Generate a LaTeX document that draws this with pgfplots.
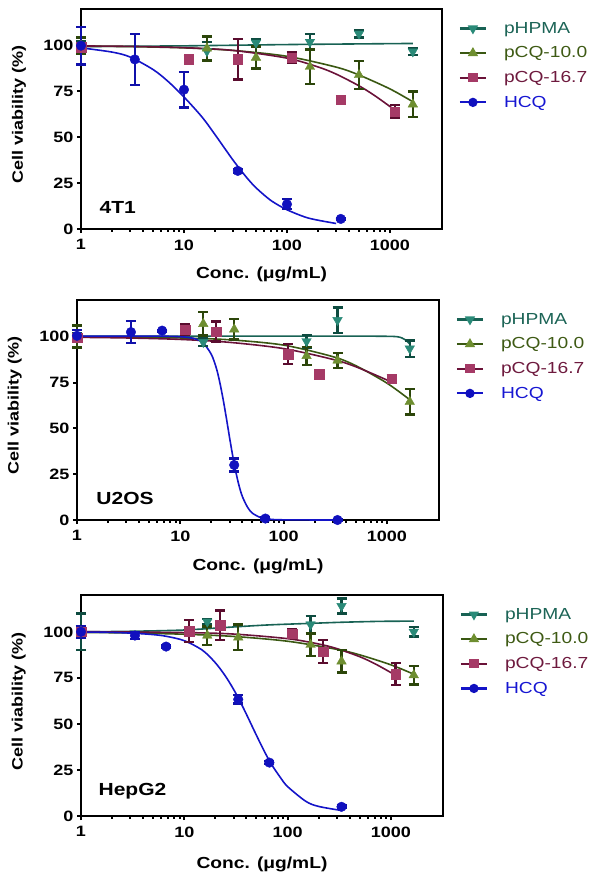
\documentclass[border=0pt]{standalone}
\usepackage{fontspec}
\setmainfont{Liberation Sans}[FakeStretch=1.2]
\usepackage{pgfplots}
\pgfplotsset{compat=1.18}

\definecolor{tealline}{RGB}{24,98,84}
\definecolor{tealmark}{RGB}{42,138,120}
\definecolor{tealerr}{RGB}{14,76,64}
\definecolor{tealtxt}{RGB}{28,100,86}
\definecolor{olivline}{RGB}{58,88,18}
\definecolor{olivmark}{RGB}{110,142,48}
\definecolor{oliverr}{RGB}{44,70,10}
\definecolor{olivtxt}{RGB}{62,90,20}
\definecolor{maroline}{RGB}{106,18,56}
\definecolor{maromark}{RGB}{165,58,102}
\definecolor{maroerr}{RGB}{90,12,46}
\definecolor{marotxt}{RGB}{110,26,62}
\definecolor{blueline}{RGB}{20,20,200}
\definecolor{bluemark}{RGB}{16,16,190}
\definecolor{blueerr}{RGB}{16,16,170}
\definecolor{bluetxt}{RGB}{22,22,210}

\tikzset{celllabel/.style={anchor=west, font=\bfseries\fontsize{17.5}{17.5}\selectfont}}

\pgfplotsset{
  legend image code/.code={\draw[mark repeat=2,mark phase=2,#1] plot coordinates {(0pt,0pt) (13pt,0pt) (26pt,0pt)};},
  myfit/.style={line width=1.6pt, no marks, smooth, forget plot},
  myhpma/.style={only marks, forget plot, mark=triangle*, mark size=5.5pt,
      mark options={rotate=180, fill=tealmark, draw=tealmark},
      error bars/y dir=both, error bars/y explicit,
      error bars/error bar style={line width=2.2pt, tealerr, solid},
      error bars/error mark options={rotate=90, line width=2.4pt, tealerr, mark size=5pt, solid}},
  mycqa/.style={only marks, forget plot, mark=triangle*, mark size=5.5pt,
      mark options={fill=olivmark, draw=olivmark},
      error bars/y dir=both, error bars/y explicit,
      error bars/error bar style={line width=2.2pt, oliverr, solid},
      error bars/error mark options={rotate=90, line width=2.4pt, oliverr, mark size=5pt, solid}},
  mycqb/.style={only marks, forget plot, mark=square*, mark size=4.8pt,
      mark options={fill=maromark, draw=maromark},
      error bars/y dir=both, error bars/y explicit,
      error bars/error bar style={line width=2.2pt, maroerr, solid},
      error bars/error mark options={rotate=90, line width=2.4pt, maroerr, mark size=5pt, solid}},
  myhcq/.style={only marks, forget plot, mark=*, mark size=4.8pt,
      mark options={fill=bluemark, draw=bluemark},
      error bars/y dir=both, error bars/y explicit,
      error bars/error bar style={line width=2.2pt, blueerr, solid},
      error bars/error mark options={rotate=90, line width=2.4pt, blueerr, mark size=5pt, solid}},
}

\newcommand{\addlegends}{%
  \addlegendimage{color=tealline, line width=2.2pt, mark=triangle*, mark size=3.8pt, mark options={rotate=180, fill=tealmark, draw=tealmark}}
  \addlegendentry{\textcolor{tealtxt}{pHPMA}}
  \addlegendimage{color=olivline, line width=2.2pt, mark=triangle*, mark size=3.8pt, mark options={fill=olivmark, draw=olivmark}}
  \addlegendentry{\textcolor{olivtxt}{pCQ-10.0}}
  \addlegendimage{color=maroline, line width=2.2pt, mark=square*, mark size=3.5pt, mark options={fill=maromark, draw=maromark}}
  \addlegendentry{\textcolor{marotxt}{pCQ-16.7}}
  \addlegendimage{color=blueline, line width=2.2pt, mark=*, mark size=3.5pt, mark options={fill=bluemark, draw=bluemark}}
  \addlegendentry{\textcolor{bluetxt}{HCQ}}
}

\begin{document}
\begin{tikzpicture}
\useasboundingbox (0,0) rectangle (595pt,-882pt);

% ---------------- 4T1 ----------------
\begin{axis}[at={(81pt,-229pt)}, anchor=south west,
    scale only axis, width=361pt, height=220pt,
    xmode=log, xmin=1, xmax=3200, ymin=0, ymax=120,
    xtick={1,10,100,1000}, xticklabels={1,10,100,1000},
    ytick={0,25,50,75,100}, minor tick num=0,
    axis line style={line width=2pt},
    tick pos=left, tick align=outside, major tick length=4pt,
    tick style={line width=2pt, black},
    /pgf/number format/assume math mode=true,
    tick label style={font=\bfseries\fontsize{15}{15}\selectfont},
    xticklabel style={yshift=-3pt},
    xlabel={Conc. (μg/mL)},
    xlabel style={font=\bfseries\fontsize{16}{16}\selectfont, at={(axis description cs:0.5,0)}, anchor=center, yshift=-45pt},
    ylabel={Cell viability (\%)},
    ylabel style={font=\bfseries\fontsize{15}{15}\selectfont, at={(axis description cs:-0.172,0.52)}, anchor=center},
    clip=false,
    legend style={at={(axis description cs:1.046,0.95)}, anchor=north west, draw=none, fill=none,
      inner sep=0pt, row sep=8pt, font=\fontsize{16}{16}\selectfont, cells={anchor=west},
      /tikz/every odd column/.append style={column sep=15pt}}]
\addlegends
\addplot[myfit, tealline] coordinates {(1,99.5) (10,99.9) (100,100.6) (1000,101.1) (1667,101.2)};
\addplot[myfit, olivline] coordinates {(1,99.75) (3,99.47) (10,98.8) (30,97.4) (100,94.2) (300,88.3) (500,84.0) (1000,76.4) (1667,69.4)};
\addplot[myfit, maroline] coordinates {(1,99.84) (3,99.6) (10,98.9) (30,97.4) (100,93.2) (200,88.4) (300,84.5) (500,78.1) (700,73) (1000,66.8) (1111,64.8)};
\addplot[myfit, blueline] coordinates {(1,98.8) (2,96.5) (3,93.8) (5,87) (7,80.5) (10,72) (15,61) (20,51.5) (30,37.5) (40,28.5) (50,22.5) (70,15.5) (100,10.5) (150,6.5) (200,4.8) (300,3)};
\addplot[myhpma] table[x=x,y=y,y error=e] {
x y e
1 99.5 3
16.7 97 5
50 101.5 2
167 102 4.5
500 106.5 2
1667 96.8 2
};
\addplot[mycqa] table[x=x,y=y,y error=e] {
x y e
1 100 4.5
16.7 98.5 6.5
50 93.5 6
167 88.5 9.5
500 84 7.5
1667 68 7
};
\addplot[mycqb] table[x=x,y=y,y error=e] {
x y e
1 99 2
11.1 92.5 2
33.3 92.5 11
111 93.5 3
333 70.5 2
1111 64 3.5
};
\addplot[myhcq] table[x=x,y=y,y error=e] {
x y e
1 100 10.3
3.33 92.5 14
10 76 9.7
33.3 31.7 1
100 13.5 2.7
333 5.5 0.5
};
\node[celllabel] at (axis description cs:0.042,0.1) {4T1};
\end{axis}

% ---------------- U2OS ----------------
\begin{axis}[at={(77pt,-520pt)}, anchor=south west,
    scale only axis, width=362pt, height=220pt,
    xmode=log, xmin=1, xmax=3200, ymin=0, ymax=120,
    xtick={1,10,100,1000}, xticklabels={1,10,100,1000},
    ytick={0,25,50,75,100}, minor tick num=0,
    axis line style={line width=2pt},
    tick pos=left, tick align=outside, major tick length=4pt,
    tick style={line width=2pt, black},
    /pgf/number format/assume math mode=true,
    tick label style={font=\bfseries\fontsize{15}{15}\selectfont},
    xticklabel style={yshift=-3pt},
    xlabel={Conc. (μg/mL)},
    xlabel style={font=\bfseries\fontsize{16}{16}\selectfont, at={(axis description cs:0.5,0)}, anchor=center, yshift=-46pt},
    ylabel={Cell viability (\%)},
    ylabel style={font=\bfseries\fontsize{15}{15}\selectfont, at={(axis description cs:-0.172,0.52)}, anchor=center},
    clip=false,
    legend style={at={(axis description cs:1.046,0.95)}, anchor=north west, draw=none, fill=none,
      inner sep=0pt, row sep=8pt, font=\fontsize{16}{16}\selectfont, cells={anchor=west},
      /tikz/every odd column/.append style={column sep=15pt}}]
\addlegends
\addplot[myfit, tealline] coordinates {(1,100.3) (100,100.3) (500,100.3) (1000,100.2) (1250,100) (1400,99.3) (1550,97.8) (1667,96)};
\addplot[myfit, olivline] coordinates {(1,99.9) (3,99.76) (10,99.3) (30,98.3) (100,95.4) (300,89.1) (500,84.2) (1000,74.7) (1667,65.6)};
\addplot[myfit, maroline] coordinates {(1,99.65) (3,99.3) (10,98.5) (30,96.9) (100,93.5) (300,87.6) (500,83.6) (1000,76.4) (1111,75.2)};
\addplot[myfit, blueline] coordinates {(1,100.3) (5,100.3) (10,100) (14,98.8) (16.7,96.5) (20,90.3) (22.3,83) (24,75.7) (26,65.8) (28,55.3) (30,45) (32,35.8) (34,27.9) (37,18.9) (40,12.7) (45,6.8) (50,3.7) (60,1.3) (70,0.5) (100,0.1) (333,0)};
\addplot[myhpma] table[x=x,y=y,y error=e] {
x y e
1 100 2
16.7 97 2
167 97.5 3.5
333 109 7
1667 93.5 4.5
};
\addplot[mycqa] table[x=x,y=y,y error=e] {
x y e
1 100 6
16.7 107 6.4
33.3 104 5.5
167 89.5 5
333 87 4
1667 64.5 7
};
\addplot[mycqb] table[x=x,y=y,y error=e] {
x y e
1 99.5 2
11.1 103.8 3
22.2 102.8 5.5
111 90.5 5.5
222 79.5 2
1111 77 2
};
\addplot[myhcq] table[x=x,y=y,y error=e] {
x y e
1 100.5 3
3.33 102.5 6
6.67 103.3 0.5
33.3 30 3.5
66.7 0.8 0.5
333 0 0.3
};
\node[celllabel] at (axis description cs:0.044,0.1) {U2OS};
\end{axis}

% ---------------- HepG2 ----------------
\begin{axis}[at={(81pt,-816pt)}, anchor=south west,
    scale only axis, width=362pt, height=221pt,
    xmode=log, xmin=1, xmax=3200, ymin=0, ymax=120,
    xtick={1,10,100,1000}, xticklabels={1,10,100,1000},
    ytick={0,25,50,75,100}, minor tick num=0,
    axis line style={line width=2pt},
    tick pos=left, tick align=outside, major tick length=4pt,
    tick style={line width=2pt, black},
    /pgf/number format/assume math mode=true,
    tick label style={font=\bfseries\fontsize{15}{15}\selectfont},
    xticklabel style={yshift=-3pt},
    xlabel={Conc. (μg/mL)},
    xlabel style={font=\bfseries\fontsize{16}{16}\selectfont, at={(axis description cs:0.5,0)}, anchor=center, yshift=-48pt},
    ylabel={Cell viability (\%)},
    ylabel style={font=\bfseries\fontsize{15}{15}\selectfont, at={(axis description cs:-0.172,0.52)}, anchor=center},
    clip=false,
    legend style={at={(axis description cs:1.046,0.95)}, anchor=north west, draw=none, fill=none,
      inner sep=0pt, row sep=8pt, font=\fontsize{16}{16}\selectfont, cells={anchor=west},
      /tikz/every odd column/.append style={column sep=15pt}}]
\addlegends
\addplot[myfit, tealline] coordinates {(1,100) (3,100.3) (10,101) (33,102.8) (68,103.8) (167,104.6) (333,105.2) (800,105.7) (1667,105.8)};
\addplot[myfit, olivline] coordinates {(1,99.7) (3,99.37) (10,98.7) (30,97.5) (100,94.9) (300,90.5) (500,87.5) (1000,82.1) (1667,77.0)};
\addplot[myfit, maroline] coordinates {(1,100.1) (10,99.6) (30,98.8) (100,96.3) (200,93.4) (300,90.9) (500,86.5) (700,82.7) (1000,77.9) (1111,76.3)};
\addplot[myfit, blueline] coordinates {(1,99.9) (2,99.7) (3.33,99.2) (5,98.5) (6.67,97.6) (10,95.2) (15,90) (20,83.2) (25,76) (30,68.8) (35,61.8) (40,55.2) (50,43.8) (60,34.8) (70,28) (85,21) (100,16) (150,8) (200,5.2) (333,3)};
\addplot[myhpma] table[x=x,y=y,y error=e] {
x y e
1 100 10
16.7 105.5 1.5
167 104 4.5
333 114 4
1667 100 2.5
};
\addplot[mycqa] table[x=x,y=y,y error=e] {
x y e
1 100 3
16.7 98 5
33.3 97 7
167 93 6
333 84 6
1667 76.5 5
};
\addplot[mycqb] table[x=x,y=y,y error=e] {
x y e
1 100 3
11.1 100.5 6
22.2 103.5 8
111 99 2.5
222 89.3 6.3
1111 77 6
};
\addplot[myhcq] table[x=x,y=y,y error=e] {
x y e
1 100 3
3.33 98 2
6.67 92 0.5
33.3 63.3 2.3
66.7 29 0.8
333 5 0.8
};
\node[celllabel] at (axis description cs:0.039,0.11) {HepG2};
\end{axis}
\end{tikzpicture}
\end{document}
